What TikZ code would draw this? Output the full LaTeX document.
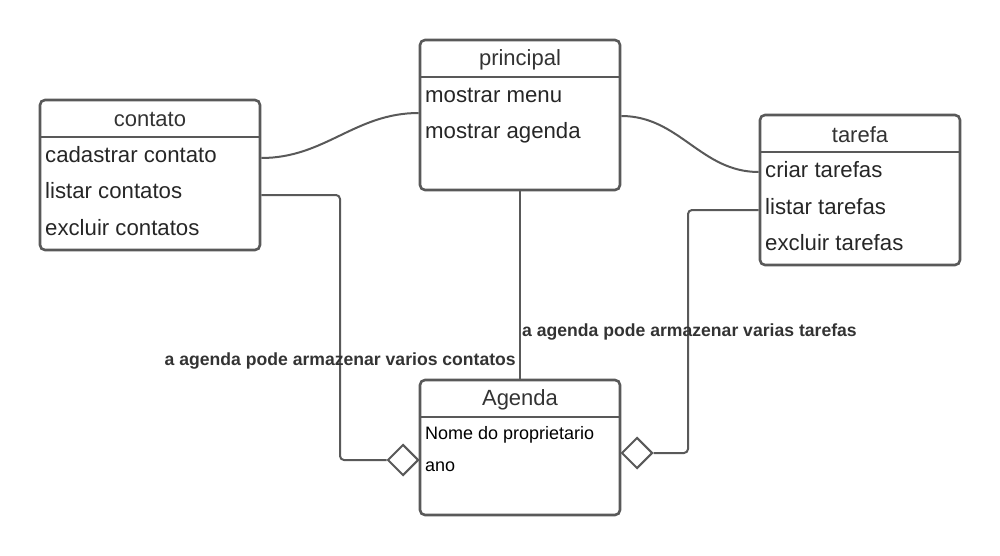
\documentclass[tikz,border=0pt]{standalone}
\usepackage{fontspec}
\setmainfont{Liberation Sans}
\usetikzlibrary{shapes.geometric}

\definecolor{edge}{HTML}{595959}
\definecolor{ink}{HTML}{333333}

\begin{document}
\begin{tikzpicture}[x=1pt,y=-1pt]
			\tikzstyle{class}=[
				rectangle, rounded corners=5pt, draw=edge, line width=2.6pt,
				inner sep=0pt
			]
			\tikzstyle{title}=[
				anchor=north, inner sep=0pt, minimum height=38pt,
				font=\fontsize{22}{26}\selectfont, text=ink
			]
			\tikzstyle{heading}=[title, anchor=center, minimum height=0pt, yshift=-2pt]
			\tikzstyle{item}=[
				anchor=west, inner sep=2pt, text height=0.75em, text depth=0.2em,
				font=\fontsize{22.2}{26}\selectfont, text=black!85
			]
			\tikzstyle{small}=[item, font=\fontsize{18}{22}\selectfont, text=black]
			\tikzstyle{rule}=[-,draw=edge,line width=2.6pt]
			\tikzstyle{line}=[-,draw=edge,line width=2pt,rounded corners=4pt]
			\tikzstyle{agg}=[
				diamond, draw=edge, fill=white, line width=2pt,
				inner sep=0pt, minimum size=31pt
			]
			\tikzstyle{note}=[inner sep=2pt, font=\bfseries\fontsize{17.6}{21}\selectfont, text=ink]
			\useasboundingbox (0,0) rectangle (1000,556);
			% classes
			\node[class, minimum width=200pt, minimum height=150pt] (principal) at (520,115) {};
			\node[class, minimum width=220pt, minimum height=150pt] (contato) at (150,175) {};
			\node[class, minimum width=200pt, minimum height=150pt] (tarefa) at (860,190) {};
			\node[class, minimum width=200pt, minimum height=135pt] (agenda) at (520,447.5) {};
			% titles
			\node[title, minimum width=200pt] (principalT) at (principal.north) {};
			\node[title, minimum width=220pt] (contatoT) at (contato.north) {};
			\node[title, minimum width=200pt] (tarefaT) at (tarefa.north) {};
			\node[title, minimum width=200pt] (agendaT) at (agenda.north) {};
			\node[heading] (principalN) at (principalT) {principal};
			\node[heading] (contatoN) at (contatoT) {contato};
			\node[heading] (tarefaN) at (tarefaT) {tarefa};
			\node[heading] (agendaN) at (agendaT) {Agenda};
			\draw[rule] (principalT.south west) -- (principalT.south east);
			\draw[rule] (contatoT.south west) -- (contatoT.south east);
			\draw[rule] (tarefaT.south west) -- (tarefaT.south east);
			\draw[rule] (agendaT.south west) -- (agendaT.south east);
			% operations
			\node[item] (menu) at (423,100) {mostrar menu};
			\node[item] (mostrar) at (423,136) {mostrar agenda};
			\node[item] (cadastrar) at (43,160) {cadastrar contato};
			\node[item] (listarC) at (43,196) {listar contatos};
			\node[item] (excluirC) at (43,233) {excluir contatos};
			\node[item] (criar) at (763,175) {criar tarefas};
			\node[item] (listarT) at (763,212) {listar tarefas};
			\node[item] (excluirT) at (763,248) {excluir tarefas};
			\node[small] (nome) at (423,437) {Nome do proprietario};
			\node[small] (ano) at (423,469) {ano};
			% aggregation ends
			\node[agg] (aggL) at (403,460) {};
			\node[agg] (aggR) at (637,453) {};
			% links
			\draw[line] (contato.east |- 0,158) to[out=0,in=180] (principal.west |- 0,113);
			\draw[line] (principal.east |- 0,116) to[out=0,in=180] (tarefa.west |- 0,172);
			\draw[line] (contato.east |- 0,195) -- (340,195) |- (aggL.west);
			\draw[line] (tarefa.west |- 0,210) -- (688,210) |- (aggR.east);
			\draw[line] (principal.south) -- (agenda.north);
			% notes
			\node[note, anchor=west] (noteT) at (520,332) {a agenda pode armazenar varias tarefas};
			\node[note, anchor=east] (noteC) at (518,361) {a agenda pode armazenar varios contatos};
		\end{tikzpicture}
\end{document}
